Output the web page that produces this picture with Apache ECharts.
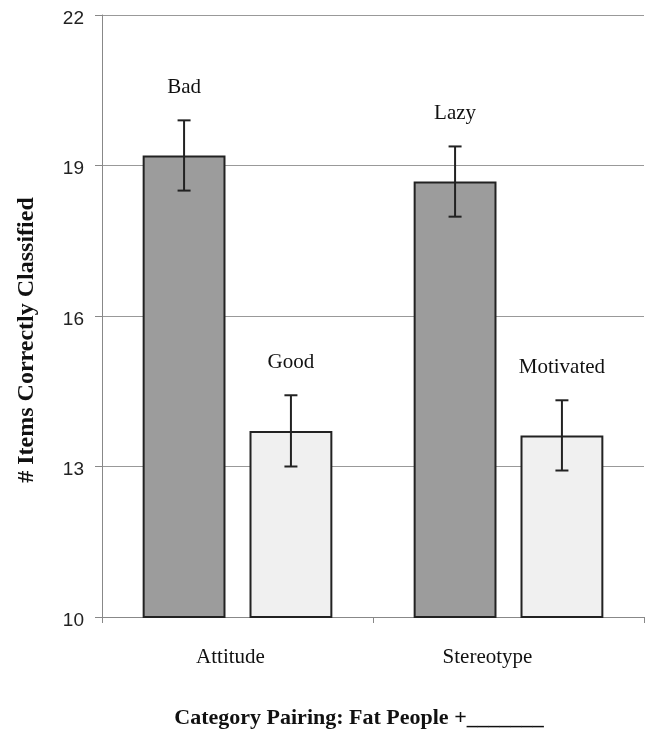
<!DOCTYPE html>
<html>
<head>
<meta charset="utf-8">
<script src="https://cdn.jsdelivr.net/npm/echarts@6/dist/echarts.min.js"></script>
<style>
html,body{margin:0;padding:0;background:#fff;}
#chart{width:652px;height:731px;}
</style>
</head>
<body>
<div id="chart"></div>
<script>
var categories = ['Attitude', 'Stereotype'];
var negValues = [19.20, 18.68];
var posValues = [13.71, 13.62];
var negErrors = [0.70, 0.70];
var posErrors = [0.71, 0.70];
var negLabels = ['Bad', 'Lazy'];
var posLabels = ['Good', 'Motivated'];
var yTicks = [10, 13, 16, 19, 22];

var chart = echarts.init(document.getElementById('chart'));

var BAR_GAP = 0.29, CAT_GAP = 0.30;
var SERIF = '"Liberation Serif", "Times New Roman", serif';
var SANS = '"Liberation Sans", Arial, sans-serif';

function errorSeries(values, errors, labels, side) {
  var data = values.map(function (v, i) { return [i, v, errors[i]]; });
  return {
    type: 'custom',
    z: 5,
    data: data,
    renderItem: function (params, api) {
      var idx = api.value(0), v = api.value(1), e = api.value(2);
      var band = api.size([1, 0])[0];
      var w = band * (1 - CAT_GAP) / (2 + BAR_GAP);
      var off = side * (w / 2 + w * BAR_GAP / 2);
      var c = api.coord([idx, v]);
      var x = c[0] + off;
      var top = api.coord([idx, v + e])[1];
      var bot = api.coord([idx, v - e])[1];
      var cap = 6.5;
      var st = { stroke: '#222', lineWidth: 2 };
      return {
        type: 'group',
        children: [
          { type: 'line', shape: { x1: x, y1: top, x2: x, y2: bot }, style: st },
          { type: 'line', shape: { x1: x - cap, y1: top, x2: x + cap, y2: top }, style: st },
          { type: 'line', shape: { x1: x - cap, y1: bot, x2: x + cap, y2: bot }, style: st },
          { type: 'text', x: x, y: top - 33, style: {
              text: labels[idx], fill: '#111', font: '21px ' + SERIF,
              textAlign: 'center', textVerticalAlign: 'middle' } }
        ]
      };
    }
  };
}

var option = {
  animation: false,
  backgroundColor: '#fff',
  grid: { left: 102, right: 8, top: 15, bottom: 114, containLabel: false },
  xAxis: {
    type: 'category',
    data: categories,
    axisLine: { show: true, lineStyle: { color: '#888', width: 1 } },
    axisTick: { show: true, length: 6, lineStyle: { color: '#888' } },
    axisLabel: {
      color: '#111', fontFamily: SERIF, fontSize: 21, margin: 30,
      formatter: function (v, i) { return '{c' + i + '|' + v + '}'; },
      rich: {
        c0: { fontFamily: SERIF, fontSize: 21, color: '#111', padding: [0, 14, 0, 0] },
        c1: { fontFamily: SERIF, fontSize: 21, color: '#111', padding: [0, 42, 0, 0] }
      }
    },
    splitLine: { show: false }
  },
  yAxis: {
    type: 'value',
    min: 10, max: 22, interval: 3,
    axisLine: { show: true, lineStyle: { color: '#888', width: 1 } },
    axisTick: { show: true, inside: false, length: 7, lineStyle: { color: '#888' } },
    axisLabel: { color: '#222', fontFamily: SANS, fontSize: 19, margin: 18,
      formatter: function (v) { return yTicks.indexOf(v) >= 0 ? '{t|' + v + '}' : ''; },
      rich: { t: { fontFamily: SANS, fontSize: 19, color: '#222', padding: [7, 0, 0, 0] } } },
    splitLine: { show: true, lineStyle: { color: '#999', width: 1 } }
  },
  series: [
    {
      type: 'bar', name: 'neg', data: negValues,
      barGap: (BAR_GAP * 100) + '%', barCategoryGap: (CAT_GAP * 100) + '%',
      itemStyle: { color: '#9c9c9c', borderColor: '#222', borderWidth: 2 }
    },
    {
      type: 'bar', name: 'pos', data: posValues,
      barGap: (BAR_GAP * 100) + '%', barCategoryGap: (CAT_GAP * 100) + '%',
      itemStyle: { color: '#f0f0f0', borderColor: '#222', borderWidth: 2 }
    },
    errorSeries(negValues, negErrors, negLabels, -1),
    errorSeries(posValues, posErrors, posLabels, 1)
  ],
  graphic: [
    { type: 'text', x: 27, y: 340, rotation: Math.PI / 2,
      style: { text: '# Items Correctly Classified', fill: '#111',
        font: 'bold 24px ' + SERIF,
        textAlign: 'center', textVerticalAlign: 'middle' } },
    { type: 'text', x: 359, y: 718,
      style: { text: 'Category Pairing: Fat People +_______', fill: '#111',
        font: 'bold 22px ' + SERIF,
        textAlign: 'center', textVerticalAlign: 'middle' } }
  ]
};
chart.setOption(option);
</script>
</body>
</html>
